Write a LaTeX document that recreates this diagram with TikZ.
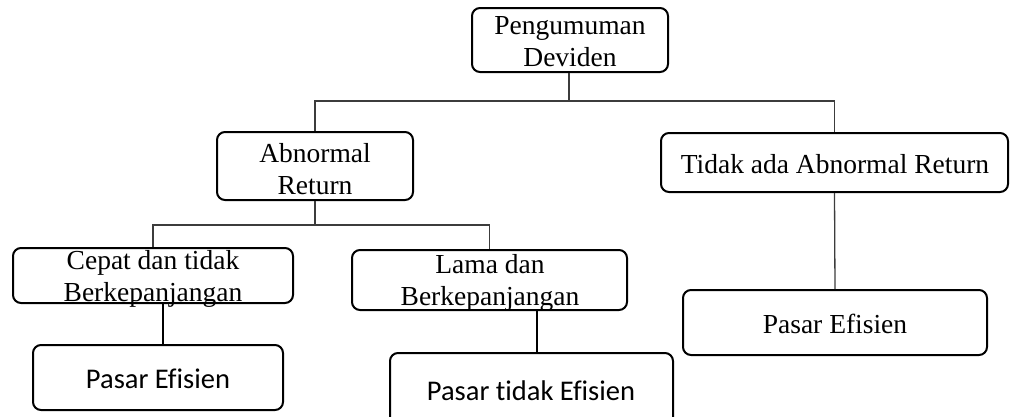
\documentclass[tikz,border=0pt]{standalone}
\usepackage{fontspec}
\setmainfont{Liberation Serif}
\newfontfamily\calib[Ligatures=NoCommon,RawFeature=-liga;-clig;-dlig]{Carlito}
\begin{document}
\begin{tikzpicture}[x=1pt,y=-1pt,
  box/.style={draw=black,line width=2pt,rounded corners=8pt,inner sep=0pt,minimum width=#1},
  txt/.style={align=center,inner sep=0pt,font=\fontsize{27.5}{32}\selectfont},
  stxt/.style={align=center,inner sep=0pt,font=\calib\fontsize{28.5}{32}\selectfont},
  conn/.style={draw={rgb,255:red,60;green,60;blue,60},line width=1.3pt},
  link/.style={draw=black,line width=2.3pt}]
\useasboundingbox (0,0) rectangle (1010,416);
\clip (0,0) rectangle (1010,416);
% boxes
\node[box=196pt,minimum height=64pt] (top) at (570,40) {};
\node[box=196pt,minimum height=68pt] (abn) at (315,166) {};
\node[box=347pt,minimum height=59pt] (tidak) at (834.5,162.5) {};
\node[box=280pt,minimum height=55pt] (cepat) at (153,275.5) {};
\node[box=275pt,minimum height=60pt] (lama) at (489.5,280) {};
\node[box=250pt,minimum height=65pt] (pe1) at (158,377.5) {};
\node[box=283pt,minimum height=75pt] (pte) at (531.5,390.5) {};
\node[box=304pt,minimum height=65pt] (pe2) at (835,322.5) {};
% texts
\node[txt] (topT) at (570,42) {Pengumuman\\Deviden};
\node[txt] (abnT) at (315,169) {Abnormal\\Return};
\node[txt] (tidakT) at (835,164) {Tidak ada Abnormal Return};
\node[txt] (cepatT) at (153,279) {Cepat dan tidak\\Berkepanjangan};
\node[txt] (lamaT) at (490,283) {Lama dan\\Berkepanjangan};
\node[stxt] (pe1T) at (158,379) {Pasar Efisien};
\node[stxt] (pteT) at (531,391) {Pasar t\kern0pt idak Efisien};
\node[txt] (pe2T) at (835,324) {Pasar Efisien};
% junctions
\coordinate (j1) at (569,101);
\coordinate (j2) at (315,225);
\coordinate (l1) at (163,0);
\coordinate (l2) at (537,0);
% connectors
\draw[conn] (top.south -| j1) -- (j1);
\draw[conn] (abn.north) |- (j1) -| (tidak.north);
\draw[conn] (abn.south) -- (j2);
\draw[conn] (cepat.north) |- (j2) -| (lama.north);
\draw[conn] (tidak.south) -- (pe2.north);
\draw[link] (cepat.south -| l1) -- (pe1.north -| l1);
\draw[link] (lama.south -| l2) -- (pte.north -| l2);
\end{tikzpicture}
\end{document}
